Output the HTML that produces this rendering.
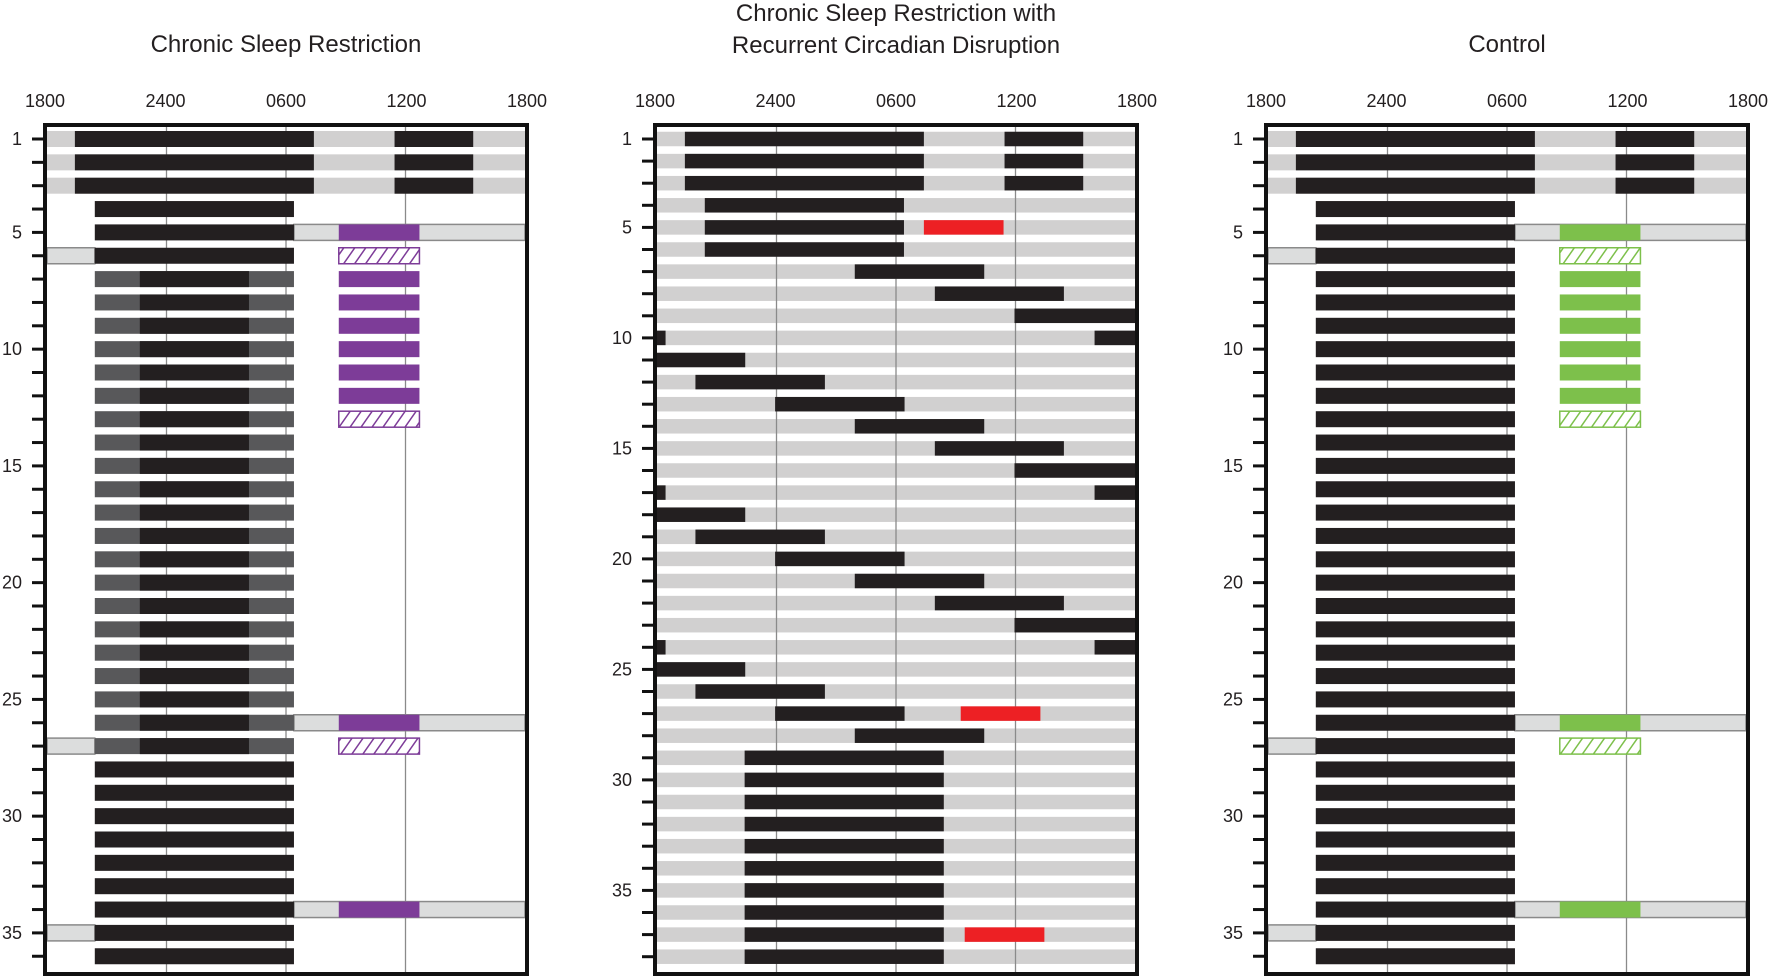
<!DOCTYPE html>
<html><head><meta charset="utf-8"><style>
html,body{margin:0;padding:0;background:#fff;}
svg{display:block;}
text{font-family:"Liberation Sans",sans-serif;fill:#231f20;}
</style></head><body>
<svg id="chart" width="1772" height="979" viewBox="0 0 1772 979" xmlns="http://www.w3.org/2000/svg">
<defs>
<pattern id="hatchP" patternUnits="userSpaceOnUse" width="9" height="9" patternTransform="rotate(35)"><rect width="9" height="9" fill="#fff"/><line x1="0" y1="0" x2="0" y2="9" stroke="#7d3c98" stroke-width="3"/></pattern>
<pattern id="hatchG" patternUnits="userSpaceOnUse" width="9" height="9" patternTransform="rotate(35)"><rect width="9" height="9" fill="#fff"/><line x1="0" y1="0" x2="0" y2="9" stroke="#7dc04b" stroke-width="3"/></pattern>
</defs>
<text x="286" y="52" font-size="24" text-anchor="middle">Chronic Sleep Restriction</text>
<text x="896" y="21" font-size="24" text-anchor="middle">Chronic Sleep Restriction with</text>
<text x="896" y="53" font-size="24" text-anchor="middle">Recurrent Circadian Disruption</text>
<text x="1507" y="52" font-size="24" text-anchor="middle">Control</text>
</svg>
<script>
// ---- data (hours after 18:00) ----
const hourTicks = ["1800","2400","0600","1200","1800"];
const rowLabels = [1,5,10,15,20,25,30,35];
// Panel 1: Chronic Sleep Restriction
const p1Gray = [[1,0,24],[2,0,24],[3,0,24]];
const p1Box = [[5,12.4,24],[6,0,2.4],[26,12.4,24],[27,0,2.4],[34,12.4,24],[35,0,2.4]];
const p1Dim = [[7,2.4,12.4],[8,2.4,12.4],[9,2.4,12.4],[10,2.4,12.4],[11,2.4,12.4],[12,2.4,12.4],[13,2.4,12.4],[14,2.4,12.4],[15,2.4,12.4],[16,2.4,12.4],[17,2.4,12.4],[18,2.4,12.4],[19,2.4,12.4],[20,2.4,12.4],[21,2.4,12.4],[22,2.4,12.4],[23,2.4,12.4],[24,2.4,12.4],[25,2.4,12.4],[26,2.4,12.4],[27,2.4,12.4]];
const p1Black = [[1,1.4,13.4],[1,17.45,21.4],[2,1.4,13.4],[2,17.45,21.4],[3,1.4,13.4],[3,17.45,21.4],
 [4,2.4,12.4],[5,2.4,12.4],[6,2.4,12.4],
 [7,4.66,10.14],[8,4.66,10.14],[9,4.66,10.14],[10,4.66,10.14],[11,4.66,10.14],[12,4.66,10.14],[13,4.66,10.14],[14,4.66,10.14],[15,4.66,10.14],[16,4.66,10.14],[17,4.66,10.14],[18,4.66,10.14],[19,4.66,10.14],[20,4.66,10.14],[21,4.66,10.14],[22,4.66,10.14],[23,4.66,10.14],[24,4.66,10.14],[25,4.66,10.14],[26,4.66,10.14],[27,4.66,10.14],
 [28,2.4,12.4],[29,2.4,12.4],[30,2.4,12.4],[31,2.4,12.4],[32,2.4,12.4],[33,2.4,12.4],[34,2.4,12.4],[35,2.4,12.4],[36,2.4,12.4]];
const p1Test = [[5,14.65,18.7],[7,14.65,18.7],[8,14.65,18.7],[9,14.65,18.7],[10,14.65,18.7],[11,14.65,18.7],[12,14.65,18.7],[26,14.65,18.7],[34,14.65,18.7]];
const p1Hatch = [[6,14.65,18.7],[13,14.65,18.7],[27,14.65,18.7]];
// Panel 2: CSR with recurrent circadian disruption (38 rows)
const p2Black = [[1,1.4,13.4],[1,17.45,21.4],[2,1.4,13.4],[2,17.45,21.4],[3,1.4,13.4],[3,17.45,21.4],
 [4,2.4,12.4],[5,2.4,12.4],[6,2.4,12.4],
 [7,9.93,16.43],[8,13.95,20.43],[9,17.95,24],[10,0,0.43],[10,21.97,24],[11,0,4.43],[12,1.93,8.43],[13,5.93,12.43],[14,9.93,16.43],[15,13.95,20.43],[16,17.95,24],
 [17,0,0.43],[17,21.97,24],[18,0,4.43],[19,1.93,8.43],[20,5.93,12.43],[21,9.93,16.43],[22,13.95,20.43],[23,17.95,24],[24,0,0.43],[24,21.97,24],[25,0,4.43],[26,1.93,8.43],[27,5.93,12.43],[28,9.93,16.43],
 [29,4.4,14.4],[30,4.4,14.4],[31,4.4,14.4],[32,4.4,14.4],[33,4.4,14.4],[34,4.4,14.4],[35,4.4,14.4],[36,4.4,14.4],[37,4.4,14.4],[38,4.4,14.4]];
const p2Red = [[5,13.4,17.4],[27,15.25,19.25],[37,15.45,19.45]];
// Panel 3: Control
const p3Gray = [[1,0,24],[2,0,24],[3,0,24]];
const p3Box = [[5,12.4,24],[6,0,2.4],[26,12.4,24],[27,0,2.4],[34,12.4,24],[35,0,2.4]];
const p3Black = [[1,1.4,13.4],[1,17.45,21.4],[2,1.4,13.4],[2,17.45,21.4],[3,1.4,13.4],[3,17.45,21.4],
 [4,2.4,12.4],[5,2.4,12.4],[6,2.4,12.4],[7,2.4,12.4],[8,2.4,12.4],[9,2.4,12.4],[10,2.4,12.4],[11,2.4,12.4],[12,2.4,12.4],[13,2.4,12.4],[14,2.4,12.4],[15,2.4,12.4],[16,2.4,12.4],[17,2.4,12.4],[18,2.4,12.4],[19,2.4,12.4],[20,2.4,12.4],[21,2.4,12.4],[22,2.4,12.4],[23,2.4,12.4],[24,2.4,12.4],[25,2.4,12.4],[26,2.4,12.4],[27,2.4,12.4],[28,2.4,12.4],[29,2.4,12.4],[30,2.4,12.4],[31,2.4,12.4],[32,2.4,12.4],[33,2.4,12.4],[34,2.4,12.4],[35,2.4,12.4],[36,2.4,12.4]];
const p3Test = [[5,14.65,18.7],[7,14.65,18.7],[8,14.65,18.7],[9,14.65,18.7],[10,14.65,18.7],[11,14.65,18.7],[12,14.65,18.7],[26,14.65,18.7],[34,14.65,18.7]];
const p3Hatch = [[6,14.65,18.7],[13,14.65,18.7],[27,14.65,18.7]];

const svg = document.getElementById('chart');
const NS = 'http://www.w3.org/2000/svg';
function mk(tag, attrs){const e=document.createElementNS(NS,tag);for(const k in attrs)e.setAttribute(k,attrs[k]);svg.appendChild(e);return e;}

function panel(x0, nRows, rowStep, barH, prefix){
  const W=482, top=125, bottom=974;
  const xs = h => x0 + 2 + h*(W-4)/24;
  const ys = r => 139 + (r-1)*rowStep;
  return {x0,W,top,bottom,xs,ys,barH,nRows,prefix};
}
function drawSegs(P, segs, fill, name, extra){
  segs.forEach(s=>{
    const e=mk('rect',Object.assign({x:P.xs(s[1]),y:P.ys(s[0])-P.barH/2,width:P.xs(s[2])-P.xs(s[1]),height:P.barH,fill:fill},extra||{}));
    
    
  });
}
function drawGrid(P){
  [6,12,18].forEach(h=>{
    const l=mk('line',{x1:P.xs(h),x2:P.xs(h),y1:P.top,y2:P.bottom,stroke:'#8a8a8a','stroke-width':1.3});
    
    
  });
}
function drawAxes(P){
  const b=mk('rect',{x:P.x0,y:P.top,width:P.W,height:P.bottom-P.top,fill:'none',stroke:'#111','stroke-width':4});
  
  
  hourTicks.forEach((t,i)=>{
    const tx=mk('text',{x:P.x0+i*P.W/4,y:107,'font-size':18,'text-anchor':'middle'});
    tx.textContent=t;
    
    
  });
  for(let r=1;r<=P.nRows;r++){
    const tk=mk('line',{x1:P.x0-13,x2:P.x0,y1:P.ys(r),y2:P.ys(r),stroke:'#111','stroke-width':3});
    
    
  }
  rowLabels.forEach(r=>{
    const tx=mk('text',{x:P.x0-23,y:P.ys(r)+6,'font-size':18,'text-anchor':'end'});
    tx.textContent=r;
    
    
  });
}

// Panel 1
const P1 = panel(45, 36, 23.35, 16, 'csr');
drawSegs(P1, p1Gray, '#d1d0d0', 'baseline-light');
drawGrid(P1);
drawSegs(P1, p1Box, '#dcdddd', 'light-box', {stroke:'#8a8a8a','stroke-width':1.5});
drawSegs(P1, p1Dim, '#58585a', 'dim-sleep');
drawSegs(P1, p1Black, '#231f20', 'sleep');
drawSegs(P1, p1Test, '#7d3c98', 'test-session');
drawSegs(P1, p1Hatch, 'url(#hatchP)', 'hatched-session', {stroke:'#7d3c98','stroke-width':1.5});
drawAxes(P1);

// Panel 2
const P2 = panel(655, 38, 22.1, 14.5, 'csr-rcd');
const p2Rows=[]; for(let r=1;r<=38;r++) p2Rows.push([r,0,24]);
drawSegs(P2, p2Rows, '#d1d0d0', 'light-row');
drawGrid(P2);
drawSegs(P2, p2Black, '#231f20', 'sleep');
drawSegs(P2, p2Red, '#ed2024', 'test-session');
drawAxes(P2);

// Panel 3
const P3 = panel(1266, 36, 23.35, 16, 'control');
drawSegs(P3, p3Gray, '#d1d0d0', 'baseline-light');
drawGrid(P3);
drawSegs(P3, p3Box, '#dcdddd', 'light-box', {stroke:'#8a8a8a','stroke-width':1.5});
drawSegs(P3, p3Black, '#231f20', 'sleep');
drawSegs(P3, p3Test, '#7dc04b', 'test-session');
drawSegs(P3, p3Hatch, 'url(#hatchG)', 'hatched-session', {stroke:'#7dc04b','stroke-width':1.5});
drawAxes(P3);
</script>
</body></html>
